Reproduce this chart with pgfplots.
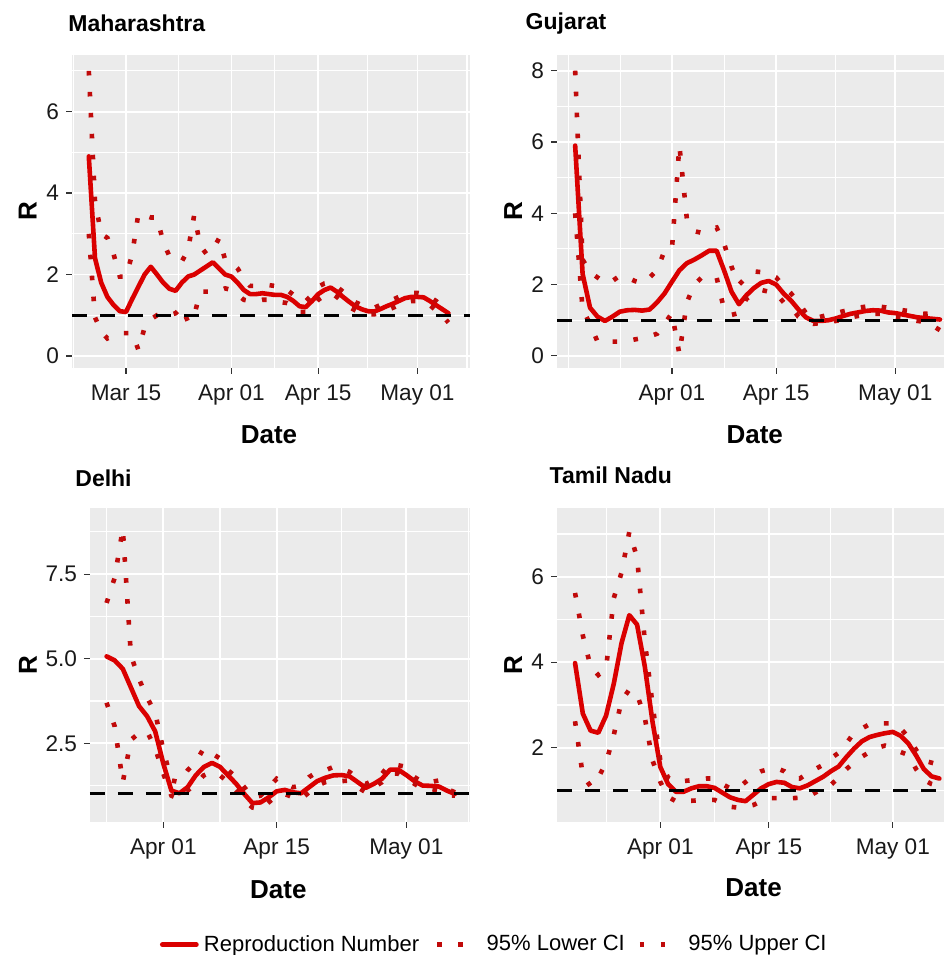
\documentclass[border=0pt]{standalone}
\usepackage{fontspec}
\setmainfont{Liberation Sans}
\usepackage{pgfplots}
\usepackage{pgfplotstable}
\pgfplotsset{compat=1.18}
\definecolor{panelbg}{HTML}{EBEBEB}
\definecolor{rline}{HTML}{DA0000}
\definecolor{rdot}{HTML}{C00A0A}
\definecolor{legred}{HTML}{E80000}

% day (0 = Mar 01), mean R, lower CI, upper CI
\pgfplotstableread{
d m lo hi
8 4.9 3.0 7.0
9 2.4 0.95 3.8
10 1.8 0.6 3.0
11 1.45 0.43 2.9
12 1.25 0.5 2.5
13 1.1 0.56 1.95
14 1.08 0.56 1.95
15 1.4 0.56 2.5
16 1.7 0.15 3.5
17 2.0 0.7 3.45
18 2.19 0.9 3.4
19 2.0 1.0 3.4
20 1.8 1.0 2.8
21 1.65 1.0 2.45
22 1.6 1.05 2.4
23 1.8 1.2 2.32
24 1.95 0.84 2.6
25 2.0 1.0 3.46
26 2.1 1.58 2.7
27 2.2 1.58 2.5
28 2.3 1.58 2.6
29 2.15 1.6 2.89
30 2.0 1.66 2.36
31 1.95 1.62 2.3
32 1.8 1.5 2.15
33 1.62 1.38 1.9
34 1.52 1.35 1.72
35 1.52 1.35 1.72
36 1.54 1.38 1.74
37 1.52 1.38 1.74
38 1.5 1.35 1.72
39 1.5 1.32 1.7
40 1.45 1.3 1.62
41 1.35 1.2 1.5
42 1.22 1.08 1.35
43 1.2 1.08 1.35
44 1.35 1.2 1.5
45 1.52 1.38 1.7
46 1.62 1.48 1.78
47 1.68 1.55 1.8
48 1.58 1.45 1.7
49 1.45 1.32 1.58
50 1.33 1.2 1.45
51 1.22 1.12 1.32
52 1.15 1.05 1.25
53 1.1 1.02 1.2
54 1.09 1.02 1.18
55 1.15 1.06 1.25
56 1.22 1.12 1.33
57 1.28 1.18 1.38
58 1.35 1.25 1.45
59 1.42 1.32 1.52
60 1.45 1.35 1.55
61 1.45 1.35 1.55
62 1.44 1.33 1.52
63 1.35 1.25 1.45
64 1.25 1.12 1.35
65 1.15 1.0 1.22
66 1.05 0.82 1.15
}\maha

\pgfplotstableread{
d m lo hi
18 5.9 4.0 8.0
19 2.3 1.3 2.7
20 1.35 0.9 2.35
21 1.1 0.4 2.2
22 0.98 0.4 2.05
23 1.1 0.4 2.1
24 1.24 0.4 2.25
25 1.28 0.42 2.2
26 1.29 0.46 2.1
27 1.27 0.5 2.04
28 1.3 0.55 2.2
29 1.5 0.62 2.4
30 1.75 0.9 2.95
31 2.08 1.2 3.0
32 2.4 0.05 5.9
33 2.6 1.5 3.85
34 2.7 2.0 3.5
35 2.82 2.2 3.45
36 2.95 2.23 3.55
37 2.95 2.2 3.6
38 2.4 1.3 3.15
39 1.8 1.15 2.5
40 1.45 1.2 2.0
41 1.7 1.6 2.2
42 1.9 1.75 2.37
43 2.05 1.85 2.35
44 2.1 1.8 2.3
45 2.0 1.75 2.2
46 1.75 1.5 1.95
47 1.55 1.35 1.75
48 1.3 1.1 1.5
49 1.08 0.95 1.2
50 0.98 0.9 1.05
51 0.98 0.92 1.1
52 1.0 0.95 1.15
53 1.05 0.98 1.2
54 1.12 1.02 1.25
55 1.18 1.08 1.3
56 1.22 1.12 1.35
57 1.26 1.15 1.38
58 1.28 1.18 1.4
59 1.27 1.18 1.38
60 1.22 1.12 1.35
61 1.2 1.1 1.32
62 1.16 1.08 1.28
63 1.12 1.02 1.25
64 1.08 0.98 1.2
65 1.06 0.95 1.18
66 1.04 0.85 1.2
67 1.02 0.72 1.15
}\guj

\pgfplotstableread{
d m lo hi
24 5.07 3.7 6.65
25 4.95 3.0 7.4
26 4.7 1.35 8.85
27 4.15 2.6 5.1
28 3.6 2.8 4.4
29 3.3 2.85 3.85
30 2.85 2.35 3.4
31 1.9 1.6 2.3
32 1.1 0.95 1.4
33 1.02 0.85 1.35
34 1.2 1.1 1.7
35 1.55 1.3 1.95
36 1.8 1.55 2.35
37 1.92 1.65 2.2
38 1.8 1.55 2.05
39 1.55 1.35 1.7
40 1.3 1.1 1.5
41 1.0 0.8 1.2
42 0.73 0.6 0.9
43 0.75 0.55 0.95
44 0.9 0.75 1.2
45 1.08 0.95 1.45
46 1.12 1.0 1.3
47 1.05 0.9 1.2
48 1.02 0.85 1.25
49 1.2 1.05 1.5
50 1.38 1.25 1.65
51 1.48 1.35 1.7
52 1.55 1.4 1.8
53 1.56 1.38 1.75
54 1.52 1.4 1.65
55 1.35 1.2 1.45
56 1.18 1.05 1.3
57 1.3 1.2 1.4
58 1.45 1.35 1.6
59 1.72 1.6 1.9
60 1.72 1.6 1.85
61 1.56 1.45 1.8
62 1.38 1.3 1.5
63 1.25 1.15 1.35
64 1.24 1.15 1.35
65 1.22 1.1 1.4
66 1.1 0.95 1.15
67 1.0 0.95 1.05
}\delhi

\pgfplotstableread{
d m lo hi
20 3.98 2.62 5.62
21 2.8 1.35 4.63
22 2.4 1.1 3.9
23 2.35 1.3 3.7
24 2.75 1.65 3.85
25 3.5 2.3 5.5
26 4.45 3.1 6.1
27 5.1 3.36 7.05
28 4.88 3.25 6.45
29 3.9 2.7 4.5
30 2.6 1.7 3.0
31 1.55 1.2 1.7
32 1.15 0.85 1.3
33 0.97 0.75 1.2
34 0.97 0.76 1.22
35 1.05 0.76 1.24
36 1.1 0.77 1.26
37 1.1 0.78 1.28
38 1.06 0.78 1.28
39 0.95 0.7 1.15
40 0.84 0.62 1.05
41 0.78 0.6 1.05
42 0.75 0.62 1.2
43 0.9 0.66 1.36
44 1.05 0.75 1.45
45 1.15 0.82 1.5
46 1.2 0.82 1.52
47 1.18 0.82 1.45
48 1.08 0.82 1.3
49 1.05 0.83 1.28
50 1.12 0.85 1.4
51 1.22 0.95 1.5
52 1.32 1.05 1.6
53 1.45 1.13 1.75
54 1.56 1.3 1.88
55 1.78 1.5 2.1
56 1.98 1.65 2.35
57 2.15 1.79 2.45
58 2.25 1.9 2.55
59 2.3 2.0 2.57
60 2.34 2.05 2.57
61 2.37 2.0 2.57
62 2.28 1.9 2.45
63 2.1 1.83 2.25
64 1.82 1.5 1.95
65 1.5 1.25 1.7
66 1.33 1.15 1.65
67 1.28 1.1 1.6
}\tn

\pgfplotsset{
  ggp/.style={
    scale only axis,
    axis background/.style={fill=panelbg},
    axis line style={draw=none},
    grid=both,
    major grid style={white, line width=0.9pt},
    minor grid style={white, line width=0.55pt},
    tick align=outside,
    xtick pos=left, ytick pos=left,
    major tick length=3pt,
    minor tick length=0pt,
    tick style={color=black!80, line width=0.6pt},
    ticklabel style={font=\fontsize{11.3}{13}\selectfont, text=black!90},
    xticklabel style={yshift=-2pt},
    /pgf/number format/assume math mode=true,
    xlabel={Date}, ylabel={R},
    label style={font=\bfseries\fontsize{13}{15}\selectfont},
    title style={font=\bfseries\fontsize{11.5}{13}\selectfont, anchor=base west, inner sep=0pt},
    clip=true,
  },
  meanline/.style={rline, line width=2.3pt, line join=round, line cap=round, no markers},
  ciline/.style={rdot, line width=2.3pt, dash pattern=on 2.3pt off 8.2pt, no markers},
  refline/.style={black, line width=1.5pt, dash pattern=on 7.5pt off 6.5pt, no markers},
  legline/.style={legend image code/.code={\draw[##1] (0pt,0pt) -- (17pt,0pt);}},
}

\begin{document}
\begin{tikzpicture}
% ---------------- Maharashtra ----------------
\begin{axis}[ggp,
  at={(36pt,293.5pt)}, anchor=south west,
  width=199pt, height=156.5pt,
  xmin=5.29, xmax=69.48, ymin=-0.295, ymax=7.39,
  xtick={14,31,45,61}, xticklabels={Mar 15,Apr 01,Apr 15,May 01},
  minor xtick={5.6,22.5,38,53,69},
  ytick={0,2,4,6}, yticklabels={0,2,4,6},
  minor ytick={1,3,5,7},
  title={Maharashtra},
  title style={at={(axis description cs:0,1)}, xshift=-2pt, yshift=5.8pt},
  xlabel style={at={(axis description cs:0.495,-0.2409)}, anchor=base},
  ylabel style={at={(axis description cs:-0.0887,0.5)}, anchor=base},
]
\addplot[meanline] table[x=d,y=m] {\maha};
\addplot[ciline] table[x=d,y=lo] {\maha};
\addplot[ciline] table[x=d,y=hi] {\maha};
\addplot[refline] coordinates {(5.29,1) (69.48,1)};
\end{axis}

% ---------------- Gujarat ----------------
\begin{axis}[ggp,
  at={(278.5pt,293.5pt)}, anchor=south west,
  width=193.5pt, height=156.5pt,
  xmin=15.56, xmax=67.54, ymin=-0.34, ymax=8.44,
  xtick={31,45,61}, xticklabels={Apr 01,Apr 15,May 01},
  minor xtick={17.1,24.1,38,53},
  ytick={0,2,4,6,8}, yticklabels={0,2,4,6,8},
  minor ytick={1,3,5,7},
  title={Gujarat},
  title style={at={(axis description cs:0,1)}, xshift=-15.85pt, yshift=6.8pt},
  xlabel style={at={(axis description cs:0.511,-0.2409)}, anchor=base},
  ylabel style={at={(axis description cs:-0.0904,0.5)}, anchor=base},
]
\addplot[meanline] table[x=d,y=m] {\guj};
\addplot[ciline] table[x=d,y=lo] {\guj};
\addplot[ciline] table[x=d,y=hi] {\guj};
\addplot[refline] coordinates {(15.56,1) (67.54,1)};
\end{axis}

% ---------------- Delhi ----------------
\begin{axis}[ggp,
  at={(45pt,66.65pt)}, anchor=south west,
  width=190pt, height=156.7pt,
  xmin=21.95, xmax=68.86, ymin=0.18, ymax=9.45,
  xtick={31,45,61}, xticklabels={Apr 01,Apr 15,May 01},
  minor xtick={24,38,53,68.7},
  ytick={2.5,5,7.5}, yticklabels={2.5,5.0,7.5},
  minor ytick={1.25,3.75,6.25,8.75},
  title={Delhi},
  title style={at={(axis description cs:0,1)}, xshift=-7.5pt, yshift=5pt},
  xlabel style={at={(axis description cs:0.4956,-0.2444)}, anchor=base},
  ylabel style={at={(axis description cs:-0.1395,0.5)}, anchor=base},
  legend columns=3,
  legend style={at={(axis description cs:0.1842,-0.392)}, anchor=west,
    draw=none, fill=none, inner sep=0pt, outer sep=0pt,
    font=\fontsize{11}{13}\selectfont, nodes={inner sep=0pt},
    /tikz/column 1/.append style={column sep=2.6pt},
    /tikz/column 2/.append style={column sep=7.8pt},
    /tikz/column 3/.append style={column sep=6.6pt},
    /tikz/column 4/.append style={column sep=6.3pt},
    /tikz/column 5/.append style={column sep=6.1pt}},
]
\addplot[meanline] table[x=d,y=m] {\delhi};
\addplot[ciline] table[x=d,y=lo] {\delhi};
\addplot[ciline] table[x=d,y=hi] {\delhi};
\addplot[refline] coordinates {(21.95,1) (68.86,1)};
\addlegendimage{legline, legred, line width=1.7pt}
\addlegendentry{Reproduction Number}
\addlegendimage{legline, legred, line width=1.5pt, dash pattern=on 1.5pt off 1.9pt}
\addlegendentry{95\% Lower CI}
\addlegendimage{legline, legred, line width=1.5pt, dash pattern=on 1.5pt off 1.9pt}
\addlegendentry{95\% Upper CI}
\end{axis}

% ---------------- Tamil Nadu ----------------
\begin{axis}[ggp,
  at={(278.5pt,66.65pt)}, anchor=south west,
  width=193.5pt, height=156.7pt,
  xmin=17.67, xmax=67.6, ymin=0.27, ymax=7.6,
  xtick={31,45,61}, xticklabels={Apr 01,Apr 15,May 01},
  minor xtick={24.1,38,53},
  ytick={2,4,6}, yticklabels={2,4,6},
  minor ytick={1,3,5,7},
  title={Tamil Nadu},
  title style={at={(axis description cs:0,1)}, xshift=-3.85pt, yshift=6.35pt},
  xlabel style={at={(axis description cs:0.508,-0.2393)}, anchor=base},
  ylabel style={at={(axis description cs:-0.0904,0.5)}, anchor=base},
]
\addplot[meanline] table[x=d,y=m] {\tn};
\addplot[ciline] table[x=d,y=lo] {\tn};
\addplot[ciline] table[x=d,y=hi] {\tn};
\addplot[refline] coordinates {(17.67,1) (67.6,1)};
\end{axis}

\pgfresetboundingbox
\path[use as bounding box] (0,0) rectangle (472pt,477.5pt);
\end{tikzpicture}
\end{document}
